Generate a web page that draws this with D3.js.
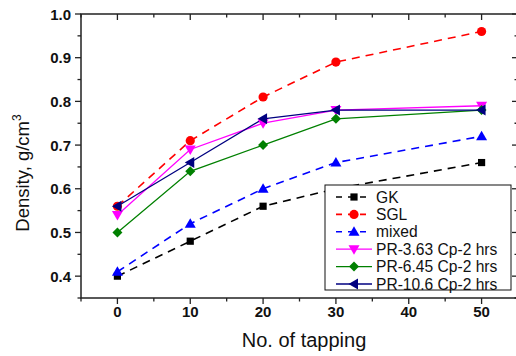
<!DOCTYPE html>
<html><head><meta charset="utf-8">
<script src="https://cdn.jsdelivr.net/npm/d3@7"></script>
<style>body{margin:0;background:#fff}svg{display:block}text{font-family:"Liberation Sans",Arial,sans-serif}</style>
</head><body><div id="c"></div>
<script>
const taps = [0, 10, 20, 30, 50];
const GK = [0.40, 0.48, 0.56, 0.60, 0.66];
const SGL = [0.56, 0.71, 0.81, 0.89, 0.96];
const mixed = [0.41, 0.52, 0.60, 0.66, 0.72];
const PR363 = [0.54, 0.69, 0.75, 0.78, 0.79];
const PR645 = [0.50, 0.64, 0.70, 0.76, 0.78];
const PR106 = [0.56, 0.66, 0.76, 0.78, 0.78];
const seriesNames = ["GK", "SGL", "mixed", "PR-3.63 Cp-2 hrs", "PR-6.45 Cp-2 hrs", "PR-10.6 Cp-2 hrs"];
const xTicks = [0, 10, 20, 30, 40, 50];
const yTicks = [0.4, 0.5, 0.6, 0.7, 0.8, 0.9, 1.0];

const series = [
  {name: seriesNames[0], vals: GK, color: "#000000", dash: "8,6", sym: "square", w: 1.6},
  {name: seriesNames[1], vals: SGL, color: "#ff0000", dash: "8,6", sym: "circle", w: 1.6},
  {name: seriesNames[2], vals: mixed, color: "#0000ff", dash: "8,6", sym: "up", w: 1.6},
  {name: seriesNames[3], vals: PR363, color: "#ff00ff", dash: null, sym: "down", w: 1.3},
  {name: seriesNames[4], vals: PR645, color: "#008000", dash: null, sym: "diamond", w: 1.3},
  {name: seriesNames[5], vals: PR106, color: "#000080", dash: null, sym: "left", w: 1.3}
];

const W = 516, H = 356;
const m = {l: 81, t: 14, r: 518, b: 298};
const svg = d3.select("#c").append("svg").attr("width", W).attr("height", H);
const x = d3.scaleLinear().domain([-5, 55]).range([m.l, m.r]);
const y = d3.scaleLinear().domain([0.35, 1.0]).range([m.b, m.t]);

function marker(g, sym, cx, cy, color) {
  let p;
  if (sym === "circle") return g.append("circle").attr("cx", cx).attr("cy", cy).attr("r", 4.6).attr("fill", color);
  if (sym === "square") p = [[-3.6,-3.6],[3.6,-3.6],[3.6,3.6],[-3.6,3.6]];
  if (sym === "up") p = [[0,-5.5],[5.5,4],[-5.5,4]];
  if (sym === "down") p = [[0,5.5],[5.5,-4],[-5.5,-4]];
  if (sym === "left") p = [[-5.5,0],[4,-5.5],[4,5.5]];
  if (sym === "diamond") p = [[0,-5],[5,0],[0,5],[-5,0]];
  g.append("polygon").attr("points", p.map(d => [cx + d[0], cy + d[1]].join(",")).join(" ")).attr("fill", color);
}

// frame
const axc = "#222";
svg.append("rect").attr("x", m.l).attr("y", m.t).attr("width", m.r - m.l).attr("height", m.b - m.t)
  .attr("fill", "none").attr("stroke", axc).attr("stroke-width", 1.5);

// axes
const xMinor = d3.range(-5, 56, 5);
const yMinor = d3.range(0.35, 1.001, 0.05).map(v => +v.toFixed(2));
const ax = svg.append("g").attr("stroke", axc).attr("stroke-width", 1.3);
xMinor.forEach(v => {
  const maj = xTicks.includes(v);
  const L = maj ? 6 : 3.5;
  ax.append("line").attr("x1", x(v)).attr("x2", x(v)).attr("y1", m.b).attr("y2", m.b + L);
  ax.append("line").attr("x1", x(v)).attr("x2", x(v)).attr("y1", m.t).attr("y2", m.t + L);
});
yMinor.forEach(v => {
  const maj = yTicks.some(t => Math.abs(t - v) < 1e-6);
  const L = maj ? 6 : 3.5;
  ax.append("line").attr("x1", m.l - L).attr("x2", m.l).attr("y1", y(v)).attr("y2", y(v));
  ax.append("line").attr("x1", m.r - L).attr("x2", m.r).attr("y1", y(v)).attr("y2", y(v));
});
svg.append("g").selectAll("text").data(xTicks).join("text")
  .attr("x", d => x(d)).attr("y", 317).attr("text-anchor", "middle")
  .attr("font-size", 15).attr("font-weight", "bold").attr("fill", "#111").text(d => d);
svg.append("g").selectAll("text").data(yTicks).join("text")
  .attr("x", 71).attr("y", d => y(d) + 5.5).attr("text-anchor", "end")
  .attr("font-size", 15).attr("font-weight", "bold").attr("fill", "#111").text(d => d.toFixed(1));

svg.append("text").attr("x", 304).attr("y", 347).attr("text-anchor", "middle")
  .attr("font-size", 20).attr("fill", "#111").text("No. of tapping");
const yt = svg.append("text").attr("transform", `translate(28.5,173) rotate(-90)`)
  .attr("text-anchor", "middle").attr("font-size", 18.5).attr("fill", "#111");
yt.append("tspan").text("Density, g/cm");
yt.append("tspan").attr("dy", -8).attr("font-size", 12).text("3");

// series
const line = d3.line().x(d => x(d[0])).y(d => y(d[1]));
series.forEach(s => {
  const pts = taps.map((t, i) => [t, s.vals[i]]);
  svg.append("path").attr("d", line(pts)).attr("fill", "none").attr("stroke", s.color)
    .attr("stroke-width", s.w).attr("stroke-dasharray", s.dash);
});
series.forEach(s => {
  const g = svg.append("g");
  taps.forEach((t, i) => marker(g, s.sym, x(t), y(s.vals[i]), s.color));
});

// legend
const lg = svg.append("g");
lg.append("rect").attr("x", 325).attr("y", 185).attr("width", 186).attr("height", 105)
  .attr("fill", "#fff").attr("stroke", "#111").attr("stroke-width", 1);
series.forEach((s, i) => {
  const cy = 197 + i * 17.4;
  lg.append("line").attr("x1", 336).attr("x2", 372).attr("y1", cy).attr("y2", cy)
    .attr("stroke", s.color).attr("stroke-width", s.w).attr("stroke-dasharray", s.dash ? "6,6" : null);
  marker(lg, s.sym, 354, cy, s.color);
  lg.append("text").attr("x", 376).attr("y", cy + 5.5).attr("font-size", 15.6).attr("fill", "#111").text(s.name);
});
</script></body></html>
